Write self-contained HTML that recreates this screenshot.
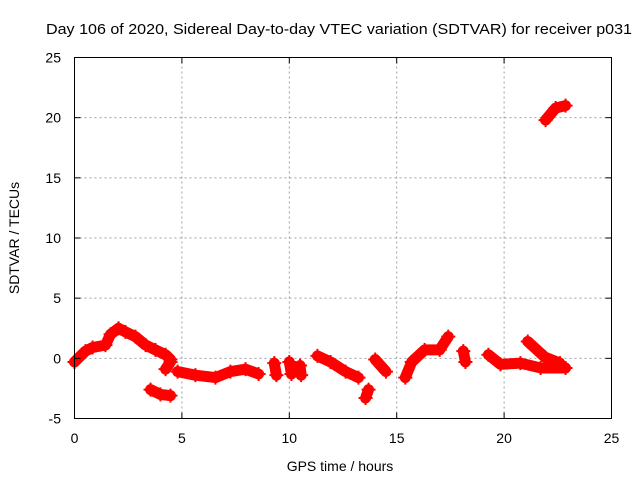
<!DOCTYPE html>
<html><head><meta charset="utf-8"><style>
body{margin:0;background:#fff;}
svg{display:block;font-family:"Liberation Sans",sans-serif;}
</style></head><body>
<svg id="chart" width="640" height="480" viewBox="0 0 640 480">
<g id="grid"></g>
<g id="marks"></g>
<rect x="74.5" y="57.5" width="537" height="361" fill="none" stroke="#000" stroke-width="1"/>
<g id="ticks"></g>
<text x="339" y="34" text-anchor="middle" font-size="15" textLength="586" lengthAdjust="spacingAndGlyphs">Day 106 of 2020, Sidereal Day-to-day VTEC variation (SDTVAR) for receiver p031</text>
<text x="340" y="471" text-anchor="middle" font-size="14">GPS time / hours</text>
<text transform="translate(19,238) rotate(-90)" text-anchor="middle" font-size="14">SDTVAR / TECUs</text>
</svg>
<script>
const xTicks=[0,5,10,15,20,25];
const yTicks=[-5,0,5,10,15,20,25];
const segA=[[0,-0.3],[0.51,0.6],[0.84,0.9],[1.44,1.1],[1.68,2.0],[2.05,2.5],[2.37,2.2],[2.84,1.8],[3.31,1.1],[3.77,0.7],[4.24,0.3],[4.47,-0.1]];
const segB=[[3.54,-2.6],[4.0,-3.0],[4.47,-3.1]];
const segC=[[4.24,-0.9],[4.47,-0.3]];
const segD=[[4.8,-1.1],[5.63,-1.4],[6.56,-1.6],[7.26,-1.1],[7.96,-0.9],[8.57,-1.3]];
const segE1=[[9.3,-0.4],[9.4,-1.4]];
const segE2=[[10.0,-0.3],[10.1,-1.3]];
const segE3=[[10.5,-0.6],[10.55,-1.4]];
const segF=[[11.31,0.2],[11.92,-0.3],[12.62,-1.1],[13.22,-1.6]];
const segG=[[13.55,-3.3],[13.69,-2.6]];
const segH=[[14.0,-0.1],[14.5,-1.1]];
const segI=[[15.4,-1.6],[15.7,-0.3],[16.3,0.7],[17.0,0.7],[17.4,1.8]];
const segJ=[[18.1,0.6],[18.2,-0.3]];
const segK=[[19.27,0.3],[19.83,-0.5],[20.76,-0.4],[21.7,-0.8],[22.86,-0.8]];
const segL=[[21.1,1.4],[21.9,0.1],[22.6,-0.4]];
const segM=[[21.93,19.8],[22.4,20.8],[22.86,21.0]];
const segments=[segA,segB,segC,segD,segE1,segE2,segE3,segF,segG,segH,segI,segJ,segK,segL,segM];
const NS="http://www.w3.org/2000/svg";
const X0=74.5,X1=611.5,Y0=418.5,Y1=57.5;
function xs(v){return X0+(v-0)/25*(X1-X0);}
function ys(v){return Y0-(v+5)/30*(Y0-Y1);}
const grid=document.getElementById('grid'),ticks=document.getElementById('ticks'),marks=document.getElementById('marks');
function mk(tag,attrs,parent){const e=document.createElementNS(NS,tag);for(const k in attrs)e.setAttribute(k,attrs[k]);parent.appendChild(e);return e;}
xTicks.forEach(t=>{const x=xs(t);
 if(t>0&&t<25){const g=mk('line',{x1:x,x2:x,y1:Y0,y2:Y1,stroke:'#a0a0a0','stroke-dasharray':'2,3'},grid);
 
 }
 mk('line',{x1:x,x2:x,y1:Y0,y2:Y0-6,stroke:'#000'},ticks);
 mk('line',{x1:x,x2:x,y1:Y1,y2:Y1+6,stroke:'#000'},ticks);
 const tx=mk('text',{x:x,y:443,'text-anchor':'middle','font-size':14},ticks);tx.textContent=t;
 
 });
yTicks.forEach(t=>{const y=ys(t);
 if(t>-5&&t<25){const g=mk('line',{x1:X0,x2:X1,y1:y,y2:y,stroke:'#a0a0a0','stroke-dasharray':'2,3'},grid);
 
 }
 mk('line',{x1:X0,x2:X0+6,y1:y,y2:y,stroke:'#000'},ticks);
 mk('line',{x1:X1,x2:X1-6,y1:y,y2:y,stroke:'#000'},ticks);
 const tx=mk('text',{x:61,y:y+5,'text-anchor':'end','font-size':14},ticks);tx.textContent=t;
 
 });
segments.forEach(seg=>{
 const pts=seg.map(p=>xs(p[0])+','+ys(p[1])).join(' ');
 const pl=mk('polyline',{points:pts,fill:'none',stroke:'#f00','stroke-width':11,'stroke-linecap':'round','stroke-linejoin':'round'},marks);
 
 
 seg.forEach(p=>{const x=xs(p[0]),y=ys(p[1]);
  const m=mk('path',{d:`M${x-7},${y}H${x+7}M${x},${y-7}V${y+7}`,stroke:'#f00','stroke-width':2},marks);
  
  });
});
</script>
</body></html>
